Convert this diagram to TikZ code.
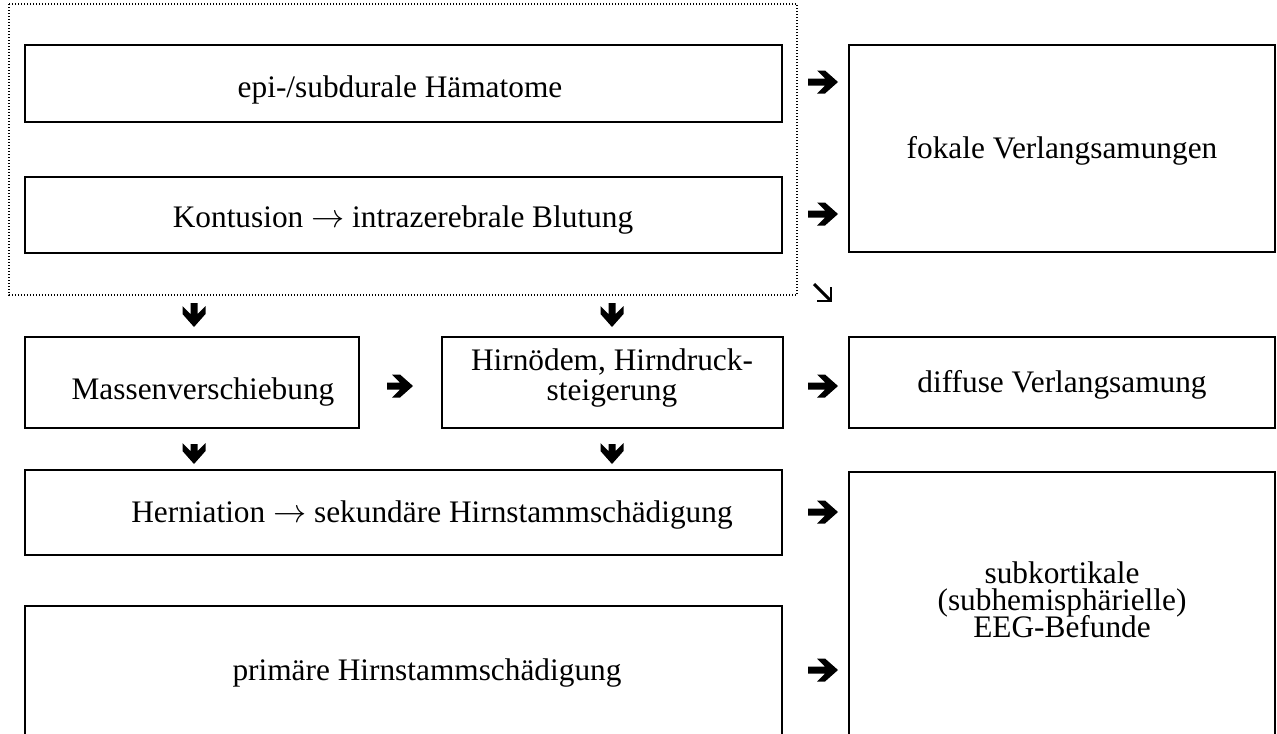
\documentclass[tikz,border=0pt]{standalone}
\usepackage{fontspec}
\setmainfont{Liberation Serif}
\usetikzlibrary{fit}

\newcommand\tofollow{\ensuremath{\rightarrow}}

\tikzset{
  x=0.75pt, y=-0.75pt,
  box/.style={draw, line width=1.8pt, inner sep=0pt},
  txt/.style={inner sep=0pt, anchor=base, align=center,
              font=\fontsize{23.5}{20.25}\selectfont},
  group/.style={draw, line width=1.1pt, dash pattern=on 1.1pt off 1.15pt},
  % heavy block arrow, #1 = half length
  harrow/.pic={\fill (-#1,-3.5) -- ({#1-13},-3.5) -- ({#1-21},-11.5)
      -- ({#1-13},-11.5) -- (#1,0) -- ({#1-13},11.5) -- ({#1-21},11.5)
      -- ({#1-13},3.5) -- (-#1,3.5) -- cycle;},
  darrow/.style={line width=2.2pt, line join=miter},
}

\begin{document}
% fixed baseline distance inside multi-line labels
\setlength\lineskiplimit{-50pt}
\setlength\lineskip{0pt}
\begin{tikzpicture}
\useasboundingbox (0,0) rectangle (1277,733);
\clip (0,0) rectangle (1277,733);

% group of the two space-occupying lesions
\draw[group] (9,4) rectangle (797,295);

% boxes
\node[box, fit={(25,45) (782,122)}]   (epi)  {};
\node[box, fit={(25,177) (782,253)}]  (kont) {};
\node[box, fit={(849,45) (1275,252)}] (fok)  {};
\node[box, fit={(25,337) (359,428)}]  (mass) {};
\node[box, fit={(442,337) (783,428)}] (oed)  {};
\node[box, fit={(849,337) (1275,428)}] (diff) {};
\node[box, fit={(25,470) (782,555)}]  (hern) {};
\node[box, fit={(25,606) (782,760)}]  (prim) {};
\node[box, fit={(849,472) (1275,760)}] (sub) {};

% labels (multi-line labels are placed by their last baseline)
\node[txt] (tepi)  at (400,97)   {epi-/subdurale Hämatome};
\node[txt] (tkont) at (403,227)  {Kontusion \tofollow{} intrazerebrale Blutung};
\node[txt] (tfok)  at (1062,158) {fokale Verlangsamungen};
\node[txt] (tmass) at (203,399)  {Massenverschiebung};
\node[txt, font=\fontsize{23.5}{22.25}\selectfont]
      (toed) at (612,400) {Hirnödem, Hirndruck-\\steigerung};
\node[txt] (tdiff) at (1062,392) {diffuse Verlangsamung};
\node[txt] (thern) at (432,522)  {Herniation \tofollow{} sekundäre Hirnstammschädigung};
\node[txt] (tprim) at (427,680)  {primäre Hirnstammschädigung};
\node[txt] (tsub)  at (1062,637) {subkortikale\\(subhemisphärielle)\\EEG-Befunde};

% arrows
\pic at (823,82)  {harrow=15};
\pic at (823,214) {harrow=15};
\pic at (400,386) {harrow=13};
\pic at (823,386) {harrow=15};
\pic at (823,512) {harrow=15};
\pic at (823,670) {harrow=15};
\pic[rotate=-90] at (194,315) {harrow=12};
\pic[rotate=-90] at (612,315) {harrow=12};
\pic[rotate=-90] at (194,454) {harrow=10};
\pic[rotate=-90] at (612,454) {harrow=10};
\draw[darrow] (814,284) -- (830,300);
\draw[darrow] (831,287) -- (831,301) -- (817,301);
\end{tikzpicture}
\end{document}
